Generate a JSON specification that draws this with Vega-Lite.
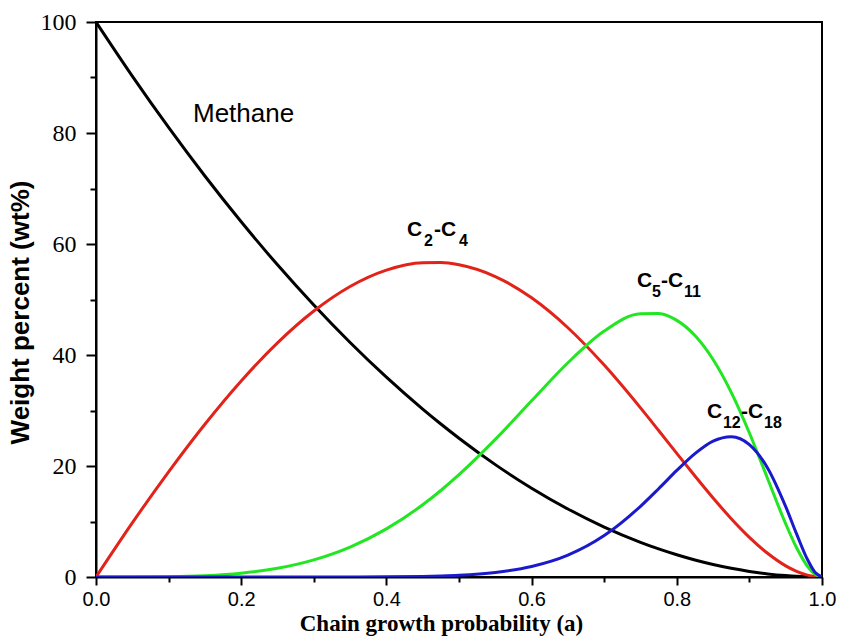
{
  "$schema": "https://vega.github.io/schema/vega-lite/v6.json",
  "width": 726,
  "height": 555,
  "autosize": "none",
  "padding": {"left": 96, "top": 22, "right": 21, "bottom": 67},
  "background": "white",
  "config": {
    "view": {"stroke": "black", "strokeWidth": 2},
    "axis": {"domainColor": "black", "domainWidth": 2, "tickColor": "black", "tickWidth": 2, "grid": false}
  },
  "datasets": {
    "curves": [
      {"a": 0, "Methane": 100, "C2-C4": 0, "C5-C11": 0, "C12-C18": 0},
      {"a": 0.05, "Methane": 90.25, "C2-C4": 9.75, "C5-C11": 0.003, "C12-C18": 0},
      {"a": 0.1, "Methane": 81, "C2-C4": 18.95, "C5-C11": 0.046, "C12-C18": 0},
      {"a": 0.15, "Methane": 72.25, "C2-C4": 27.53, "C5-C11": 0.22, "C12-C18": 0},
      {"a": 0.2, "Methane": 64, "C2-C4": 35.33, "C5-C11": 0.67, "C12-C18": 0},
      {"a": 0.25, "Methane": 56.25, "C2-C4": 42.19, "C5-C11": 1.56, "C12-C18": 0},
      {"a": 0.3, "Methane": 49, "C2-C4": 47.92, "C5-C11": 3.08, "C12-C18": 0.002},
      {"a": 0.35, "Methane": 42.25, "C2-C4": 52.35, "C5-C11": 5.39, "C12-C18": 0.008},
      {"a": 0.4, "Methane": 36, "C2-C4": 55.3, "C5-C11": 8.67, "C12-C18": 0.03},
      {"a": 0.45, "Methane": 30.25, "C2-C4": 56.63, "C5-C11": 13.01, "C12-C18": 0.11},
      {"a": 0.475, "Methane": 27.56, "C2-C4": 56.66, "C5-C11": 15.59, "C12-C18": 0.19},
      {"a": 0.5, "Methane": 25, "C2-C4": 56.25, "C5-C11": 18.43, "C12-C18": 0.31},
      {"a": 0.55, "Methane": 20.25, "C2-C4": 54.13, "C5-C11": 24.79, "C12-C18": 0.81},
      {"a": 0.6, "Methane": 16, "C2-C4": 50.3, "C5-C11": 31.74, "C12-C18": 1.88},
      {"a": 0.65, "Methane": 12.25, "C2-C4": 44.91, "C5-C11": 38.6, "C12-C18": 3.93},
      {"a": 0.7, "Methane": 9, "C2-C4": 38.18, "C5-C11": 44.32, "C12-C18": 7.46},
      {"a": 0.75, "Methane": 6.25, "C2-C4": 30.47, "C5-C11": 47.44, "C12-C18": 12.74},
      {"a": 0.775, "Methane": 5.06, "C2-C4": 26.4, "C5-C11": 47.49, "C12-C18": 15.91},
      {"a": 0.8, "Methane": 4, "C2-C4": 22.27, "C5-C11": 46.24, "C12-C18": 19.2},
      {"a": 0.825, "Methane": 3.06, "C2-C4": 18.19, "C5-C11": 43.51, "C12-C18": 22.24},
      {"a": 0.85, "Methane": 2.25, "C2-C4": 14.23, "C5-C11": 39.18, "C12-C18": 24.5},
      {"a": 0.875, "Methane": 1.56, "C2-C4": 10.51, "C5-C11": 33.26, "C12-C18": 25.29},
      {"a": 0.9, "Methane": 1, "C2-C4": 7.15, "C5-C11": 25.95, "C12-C18": 23.87},
      {"a": 0.925, "Methane": 0.56, "C2-C4": 4.27, "C5-C11": 17.76, "C12-C18": 19.66},
      {"a": 0.95, "Methane": 0.25, "C2-C4": 2.01, "C5-C11": 9.58, "C12-C18": 12.69},
      {"a": 0.965, "Methane": 0.12, "C2-C4": 1.02, "C5-C11": 5.26, "C12-C18": 7.76},
      {"a": 0.98, "Methane": 0.04, "C2-C4": 0.34, "C5-C11": 1.93, "C12-C18": 3.15},
      {"a": 0.99, "Methane": 0.01, "C2-C4": 0.09, "C5-C11": 0.52, "C12-C18": 0.91},
      {"a": 1, "Methane": 0, "C2-C4": 0, "C5-C11": 0, "C12-C18": 0}
    ],
    "labels": [
      {"a": 0.1336, "w": 83.4, "text": "Methane", "part": "plain"},
      {"a": 0.4284, "w": 61.44, "text": "C", "part": "main"},
      {"a": 0.4518, "w": 59.64, "text": "2", "part": "sub"},
      {"a": 0.4656, "w": 61.44, "text": "-C", "part": "main"},
      {"a": 0.5, "w": 59.64, "text": "4", "part": "sub"},
      {"a": 0.7452, "w": 52.25, "text": "C", "part": "main"},
      {"a": 0.7658, "w": 50.45, "text": "5", "part": "sub"},
      {"a": 0.7782, "w": 52.25, "text": "-C", "part": "main"},
      {"a": 0.8099, "w": 50.45, "text": "11", "part": "sub"},
      {"a": 0.8416, "w": 28.65, "text": "C", "part": "main"},
      {"a": 0.8636, "w": 26.85, "text": "12", "part": "sub"},
      {"a": 0.8884, "w": 28.65, "text": "-C", "part": "main"},
      {"a": 0.9201, "w": 26.85, "text": "18", "part": "sub"}
    ]
  },
  "layer": [
    {
      "data": {"name": "curves"},
      "transform": [{"fold": ["Methane", "C2-C4", "C5-C11", "C12-C18"], "as": ["series", "wt"]}],
      "mark": {"type": "line", "strokeWidth": 3, "interpolate": "monotone", "clip": true},
      "encoding": {
        "x": {
          "field": "a", "type": "quantitative",
          "scale": {"domain": [0, 1], "nice": false, "zero": false},
          "axis": {
            "values": [0, 0.1, 0.2, 0.3, 0.4, 0.5, 0.6, 0.7, 0.8, 0.9, 1.0],
            "labelExpr": "round(datum.value*10) % 2 === 1 ? '' : format(datum.value, '.1f')",
            "tickSize": {"condition": {"test": "round(datum.value*10) % 2 === 1", "value": 5}, "value": 8},
            "labelFont": "Liberation Sans", "labelFontSize": 20, "labelColor": "black", "labelPadding": 4,
            "labelFlush": false,
            "title": "Chain growth probability (a)",
            "titleFont": "Liberation Serif", "titleFontSize": 23, "titleFontWeight": "bold", "titleColor": "black",
            "titlePadding": 3, "titleX": 345
          }
        },
        "y": {
          "field": "wt", "type": "quantitative",
          "scale": {"domain": [0, 100], "nice": false},
          "axis": {
            "values": [0, 10, 20, 30, 40, 50, 60, 70, 80, 90, 100],
            "labelExpr": "datum.value % 20 ? '' : datum.label",
            "tickSize": {"condition": {"test": "datum.value % 20 !== 0", "value": 6}, "value": 10},
            "labelFont": "Liberation Serif", "labelFontSize": 24, "labelColor": "black", "labelPadding": 10,
            "labelFlush": false,
            "title": "Weight percent (wt%)",
            "titleFont": "Liberation Sans", "titleFontSize": 26, "titleFontWeight": "bold", "titleColor": "black",
            "titlePadding": 7, "titleY": 290
          }
        },
        "color": {
          "field": "series", "type": "nominal",
          "scale": {"domain": ["Methane", "C2-C4", "C5-C11", "C12-C18"], "range": ["#000000", "#e2231a", "#22e622", "#1a1acc"]},
          "legend": null
        }
      }
    },
    {
      "data": {"name": "labels"},
      "transform": [{"filter": "datum.part === 'plain'"}],
      "mark": {"type": "text", "align": "left", "baseline": "middle", "font": "Liberation Sans", "fontSize": 26, "color": "black"},
      "encoding": {
        "x": {"field": "a", "type": "quantitative"},
        "y": {"field": "w", "type": "quantitative"},
        "text": {"field": "text"}
      }
    },
    {
      "data": {"name": "labels"},
      "transform": [{"filter": "datum.part === 'main'"}],
      "mark": {"type": "text", "align": "left", "baseline": "alphabetic", "font": "Liberation Sans", "fontSize": 21, "fontWeight": "bold", "color": "black"},
      "encoding": {
        "x": {"field": "a", "type": "quantitative"},
        "y": {"field": "w", "type": "quantitative"},
        "text": {"field": "text"}
      }
    },
    {
      "data": {"name": "labels"},
      "transform": [{"filter": "datum.part === 'sub'"}],
      "mark": {"type": "text", "align": "left", "baseline": "alphabetic", "font": "Liberation Sans", "fontSize": 16, "fontWeight": "bold", "color": "black"},
      "encoding": {
        "x": {"field": "a", "type": "quantitative"},
        "y": {"field": "w", "type": "quantitative"},
        "text": {"field": "text"}
      }
    }
  ]
}
